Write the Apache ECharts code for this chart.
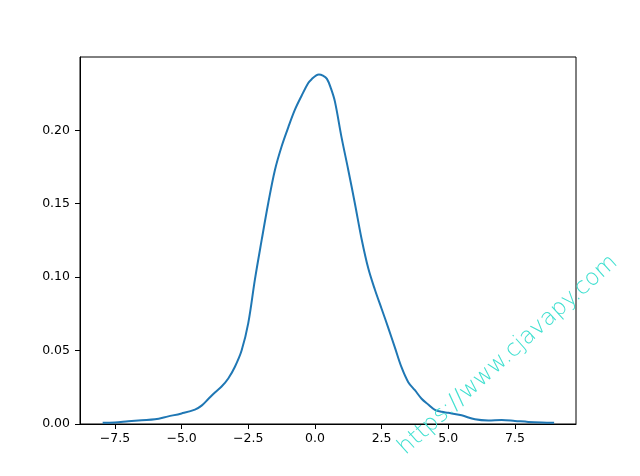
<!DOCTYPE html>
<html>
<head>
<meta charset="utf-8">
<script src="https://cdn.jsdelivr.net/npm/echarts@6/dist/echarts.min.js"></script>
<style>
html, body { margin: 0; padding: 0; background: #fff; }
#chart { width: 640px; height: 476px; }
</style>
</head>
<body>
<div id="chart"></div>
<script>
// KDE curve: x positions and density values
const xValues = [-7.96, -7.5, -7.0, -6.5, -6.0, -5.5, -5.0, -4.5, -4.25, -4.0, -3.75, -3.5, -3.25, -3.0, -2.75, -2.5, -2.25, -2.0, -1.75, -1.5, -1.25, -1.0, -0.75, -0.5, -0.25, -0.1, 0.05, 0.15, 0.3, 0.45, 0.6, 0.75, 1.0, 1.25, 1.5, 1.75, 2.0, 2.25, 2.5, 2.75, 3.0, 3.25, 3.5, 3.75, 4.0, 4.25, 4.5, 4.75, 5.0, 5.5, 6.0, 6.5, 7.0, 7.5, 8.0, 8.5, 8.97];
const densityValues = [0.0008, 0.0011, 0.0019, 0.0026, 0.0032, 0.0052, 0.0072, 0.0098, 0.0125, 0.0170, 0.0215, 0.0255, 0.0310, 0.0390, 0.0500, 0.0687, 0.0985, 0.1250, 0.1505, 0.1730, 0.1890, 0.2020, 0.2140, 0.2235, 0.2322, 0.2352, 0.2374, 0.2380, 0.2372, 0.2350, 0.2285, 0.2195, 0.1950, 0.1730, 0.1500, 0.1260, 0.1060, 0.0914, 0.0785, 0.0655, 0.0520, 0.0385, 0.0285, 0.0230, 0.0172, 0.0133, 0.0097, 0.0083, 0.0076, 0.0059, 0.0032, 0.0024, 0.0027, 0.0021, 0.0014, 0.0010, 0.0008];
const xTicks = [-7.5, -5.0, -2.5, 0.0, 2.5, 5.0, 7.5];
const yTicks = [0.00, 0.05, 0.10, 0.15, 0.20];
const watermarkText = 'https://www.cjavapy.com';

const points = xValues.map((x, i) => [x, densityValues[i]]);
const fontFamily = 'DejaVu Sans';

const chart = echarts.init(document.getElementById('chart'), null, { renderer: 'canvas' });
chart.setOption({
  animation: false,
  backgroundColor: '#ffffff',
  grid: {
    left: 80, right: 64, top: 57, bottom: 52,
    show: true, borderColor: '#000000', borderWidth: 1, backgroundColor: 'transparent'
  },
  xAxis: {
    type: 'value',
    min: -8.81, max: 9.79,
    splitLine: { show: false },
    axisLine: { show: true, onZero: false, lineStyle: { color: '#000', width: 1 } },
    axisTick: { show: true, inside: false, length: 5, customValues: xTicks, lineStyle: { color: '#000', width: 1 } },
    axisLabel: {
      customValues: xTicks,
      margin: 8,
      color: '#000', fontSize: 12.5, fontFamily: fontFamily,
      formatter: v => (v < 0 ? '\u2212' : '') + Math.abs(v).toFixed(1)
    }
  },
  yAxis: {
    type: 'value',
    min: 0, max: 0.2499,
    splitLine: { show: false },
    axisLine: { show: true, onZero: false, lineStyle: { color: '#000', width: 1 } },
    axisTick: { show: true, inside: false, length: 5, customValues: yTicks, lineStyle: { color: '#000', width: 1 } },
    axisLabel: {
      customValues: yTicks,
      margin: 10,
      color: '#000', fontSize: 12.5, fontFamily: fontFamily,
      formatter: v => v.toFixed(2)
    }
  },
  series: [{
    type: 'line',
    data: points,
    showSymbol: false,
    smooth: 0.35,
    lineStyle: { color: '#1f77b4', width: 2 },
    z: 3
  }],
  graphic: [{
    type: 'text',
    x: 508, y: 355,
    rotation: 42 * Math.PI / 180,
    z: 100,
    style: {
      text: watermarkText,
      fill: '#40E0D0',
      font: '200 23px "DejaVu Sans"',
      textAlign: 'center',
      textVerticalAlign: 'middle'
    }
  }]
});
</script>
</body>
</html>
